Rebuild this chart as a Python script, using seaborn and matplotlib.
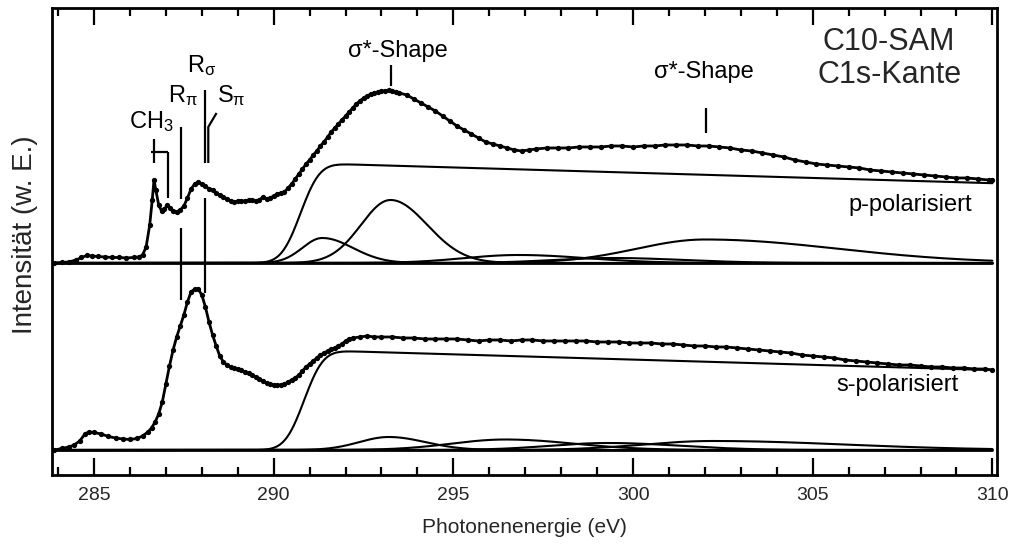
import math

import numpy as np
import pandas as pd
import matplotlib
matplotlib.use("Agg")
import matplotlib.pyplot as plt
import seaborn as sns
from matplotlib.ticker import MultipleLocator

# ---------------------------------------------------------------------------
# Measured C1s NEXAFS spectra of the C10 SAM (edge-jump normalised)
# ---------------------------------------------------------------------------
energy_p = [
    283.90, 284.10, 284.30, 284.50, 284.65, 284.80, 284.95, 285.10, 285.30, 285.50,
    285.70, 285.90, 286.10, 286.25, 286.35, 286.45, 286.55, 286.62, 286.67, 286.72,
    286.80, 286.88, 286.96, 287.04, 287.12, 287.20, 287.30, 287.40, 287.50, 287.60,
    287.70, 287.80, 287.90, 288.00, 288.10, 288.20, 288.30, 288.40, 288.50, 288.60,
    288.70, 288.80, 288.90, 289.00, 289.10, 289.20, 289.30, 289.40, 289.50, 289.60,
    289.70, 289.80, 289.90, 290.00, 290.10, 290.20, 290.30, 290.40, 290.50, 290.60,
    290.70, 290.80, 290.90, 291.00, 291.10, 291.20, 291.30, 291.40, 291.50, 291.60,
    291.70, 291.80, 291.90, 292.00, 292.10, 292.20, 292.30, 292.40, 292.50, 292.60,
    292.70, 292.80, 292.90, 293.00, 293.10, 293.20, 293.30, 293.40, 293.50, 293.70,
    293.90, 294.10, 294.30, 294.50, 294.70, 294.90, 295.10, 295.30, 295.50, 295.70,
    295.90, 296.10, 296.30, 296.50, 296.70, 296.90, 297.10, 297.30, 297.60, 297.90,
    298.20, 298.50, 298.80, 299.10, 299.40, 299.70, 300.00, 300.30, 300.60, 300.90,
    301.20, 301.50, 301.80, 302.10, 302.40, 302.70, 303.00, 303.30, 303.60, 303.90,
    304.20, 304.50, 304.80, 305.10, 305.40, 305.70, 306.00, 306.30, 306.60, 306.90,
    307.20, 307.50, 307.80, 308.10, 308.40, 308.70, 309.00, 309.30, 309.60, 309.90,
    310.00,
]
intensity_p = [
    0.000, 0.005, 0.010, 0.030, 0.055, 0.075, 0.070, 0.065, 0.060, 0.055,
    0.055, 0.050, 0.055, 0.060, 0.080, 0.160, 0.380, 0.630, 0.830, 0.730,
    0.580, 0.520, 0.540, 0.580, 0.550, 0.520, 0.510, 0.530, 0.570, 0.650,
    0.740, 0.790, 0.810, 0.790, 0.770, 0.740, 0.730, 0.700, 0.680, 0.660,
    0.640, 0.620, 0.610, 0.620, 0.620, 0.620, 0.630, 0.630, 0.620, 0.630,
    0.660, 0.640, 0.650, 0.670, 0.690, 0.700, 0.710, 0.750, 0.790, 0.840,
    0.890, 0.940, 0.990, 1.030, 1.080, 1.120, 1.170, 1.210, 1.260, 1.310,
    1.350, 1.390, 1.430, 1.470, 1.510, 1.550, 1.590, 1.620, 1.650, 1.670,
    1.690, 1.700, 1.710, 1.720, 1.720, 1.730, 1.720, 1.710, 1.700, 1.680,
    1.640, 1.600, 1.560, 1.520, 1.470, 1.420, 1.370, 1.330, 1.290, 1.250,
    1.210, 1.190, 1.170, 1.150, 1.130, 1.120, 1.130, 1.140, 1.150, 1.150,
    1.150, 1.160, 1.160, 1.160, 1.170, 1.170, 1.160, 1.170, 1.170, 1.180,
    1.180, 1.180, 1.170, 1.170, 1.160, 1.150, 1.130, 1.120, 1.100, 1.080,
    1.060, 1.030, 1.010, 0.990, 0.980, 0.970, 0.960, 0.950, 0.930, 0.920,
    0.910, 0.900, 0.890, 0.880, 0.870, 0.860, 0.850, 0.850, 0.840, 0.830,
    0.830,
]

energy_s = [
    283.90, 284.10, 284.30, 284.45, 284.60, 284.75, 284.85, 285.00, 285.20, 285.40,
    285.60, 285.80, 286.00, 286.20, 286.35, 286.50, 286.60, 286.70, 286.80, 286.90,
    287.00, 287.10, 287.20, 287.30, 287.40, 287.50, 287.60, 287.70, 287.80, 287.90,
    288.00, 288.10, 288.20, 288.30, 288.40, 288.50, 288.60, 288.70, 288.80, 288.90,
    289.00, 289.10, 289.20, 289.30, 289.40, 289.50, 289.60, 289.70, 289.80, 289.90,
    290.00, 290.10, 290.20, 290.30, 290.40, 290.50, 290.60, 290.70, 290.80, 290.90,
    291.00, 291.10, 291.20, 291.30, 291.40, 291.50, 291.60, 291.70, 291.80, 291.90,
    292.00, 292.10, 292.20, 292.40, 292.60, 292.80, 293.00, 293.30, 293.60, 293.90,
    294.20, 294.50, 294.80, 295.10, 295.40, 295.70, 296.00, 296.30, 296.60, 296.90,
    297.20, 297.50, 297.80, 298.10, 298.40, 298.70, 299.00, 299.30, 299.60, 299.90,
    300.20, 300.50, 300.80, 301.10, 301.40, 301.70, 302.00, 302.30, 302.60, 302.90,
    303.20, 303.50, 303.80, 304.10, 304.40, 304.70, 305.00, 305.30, 305.60, 305.90,
    306.20, 306.50, 306.80, 307.10, 307.40, 307.70, 308.00, 308.30, 308.60, 308.90,
    309.20, 309.50, 309.80, 310.00,
]
intensity_s = [
    0.000, 0.015, 0.030, 0.050, 0.090, 0.160, 0.180, 0.175, 0.160, 0.135,
    0.120, 0.110, 0.105, 0.115, 0.140, 0.180, 0.220, 0.280, 0.360, 0.480,
    0.660, 0.840, 1.000, 1.130, 1.240, 1.350, 1.480, 1.580, 1.610, 1.610,
    1.550, 1.430, 1.280, 1.150, 1.040, 0.940, 0.880, 0.850, 0.830, 0.820,
    0.810, 0.800, 0.780, 0.770, 0.750, 0.730, 0.710, 0.690, 0.670, 0.660,
    0.650, 0.650, 0.650, 0.660, 0.680, 0.700, 0.720, 0.750, 0.790, 0.830,
    0.860, 0.890, 0.920, 0.950, 0.970, 0.990, 1.010, 1.020, 1.040, 1.060,
    1.090, 1.110, 1.120, 1.130, 1.140, 1.130, 1.130, 1.130, 1.120, 1.120,
    1.110, 1.110, 1.110, 1.110, 1.100, 1.090, 1.100, 1.100, 1.090, 1.100,
    1.100, 1.090, 1.090, 1.090, 1.090, 1.090, 1.080, 1.080, 1.080, 1.070,
    1.070, 1.070, 1.060, 1.060, 1.050, 1.040, 1.040, 1.030, 1.030, 1.020,
    1.010, 1.000, 0.990, 0.980, 0.970, 0.950, 0.940, 0.930, 0.920, 0.900,
    0.890, 0.880, 0.870, 0.860, 0.850, 0.850, 0.840, 0.830, 0.830, 0.820,
    0.820, 0.810, 0.810, 0.800,
]

# Vertical offset of the p-polarised spectrum above the s-polarised one
offset_p = 1.87

# ---------------------------------------------------------------------------
# Fit model: ionisation step (erf edge with linear decay) + asymmetric
# Gaussian resonances, parameters per polarisation
# ---------------------------------------------------------------------------
step_center = {"p": 290.75, "s": 290.85}
step_width = 0.42
step_height = 1.0
step_decay = 0.0105

peak_center_p = [291.35, 293.25, 296.80, 299.40, 302.00]
peak_height_p = [0.25, 0.63, 0.08, 0.05, 0.235]
peak_center_s = [291.35, 293.20, 296.45, 299.30, 302.20]
peak_height_s = [0.00, 0.13, 0.105, 0.07, 0.09]
peak_width_low = [0.55, 0.82, 1.50, 1.60, 1.90]
peak_width_high = [0.85, 1.02, 1.90, 2.00, 3.70]

# Resonance markers (energies in eV)
mark_ch3 = [286.67, 287.07]
mark_rpi = 287.42
mark_rsigma = 288.09
mark_spi = 288.18
mark_shape = [293.26, 302.03]

energy_min, energy_max = 283.9, 310.0

# ---------------------------------------------------------------------------
sns.set_theme(style="ticks")
plt.rcParams["font.family"] = ["Liberation Sans", "DejaVu Sans"]
plt.rcParams["mathtext.fontset"] = "custom"
plt.rcParams["mathtext.rm"] = "Liberation Sans"
plt.rcParams["mathtext.it"] = "Liberation Sans"
plt.rcParams["mathtext.default"] = "rm"

fig = plt.figure(figsize=(10.18, 5.56), dpi=100)
ax = fig.add_axes([0.0514, 0.1457, 0.9277, 0.8394])

grid = np.linspace(energy_min, energy_max, 800)
erf = np.vectorize(math.erf)


def step_curve(center):
    rise = 0.5 * (1.0 + erf((grid - center) / (step_width * math.sqrt(2.0))))
    return step_height * rise * (1.0 - step_decay * (grid - center))


def peak_curve(center, height, w_lo, w_hi):
    width = np.where(grid < center, w_lo, w_hi)
    return height * np.exp(-0.5 * ((grid - center) / width) ** 2)


fit_lw = 1.5
for pol, base, centers, heights in (
    ("p", offset_p, peak_center_p, peak_height_p),
    ("s", 0.0, peak_center_s, peak_height_s),
):
    # baseline
    sns.lineplot(x=[energy_min, energy_max], y=[base, base], ax=ax,
                 color="black", lw=2.0, estimator=None)
    # step
    sns.lineplot(x=grid, y=base + step_curve(step_center[pol]), ax=ax,
                 color="black", lw=fit_lw, estimator=None)
    # resonances
    for c, h, wl, wh in zip(centers, heights, peak_width_low, peak_width_high):
        if h <= 0:
            continue
        sns.lineplot(x=grid, y=base + peak_curve(c, h, wl, wh), ax=ax,
                     color="black", lw=fit_lw, estimator=None)

# measured spectra
spec = pd.concat([
    pd.DataFrame({"E": energy_p, "I": np.array(intensity_p) + offset_p, "pol": "p"}),
    pd.DataFrame({"E": energy_s, "I": intensity_s, "pol": "s"}),
])
for pol, sub in spec.groupby("pol"):
    sns.lineplot(data=sub, x="E", y="I", ax=ax, color="black", lw=2.0,
                 marker="o", markersize=3.8, markeredgewidth=0,
                 estimator=None, sort=True)

# ---------------------------------------------------------------------------
# resonance annotations
line_kw = dict(color="black", lw=1.6, solid_capstyle="butt")
ax.plot([mark_ch3[0], mark_ch3[0]], [2.87, 3.11], **line_kw)
ax.plot([mark_ch3[0] - 0.08, mark_ch3[1]], [2.98, 2.98], **line_kw)
ax.plot([mark_ch3[1], mark_ch3[1]], [2.98, 2.52], **line_kw)
ax.plot([mark_rpi, mark_rpi], [2.51, 3.23], **line_kw)
ax.plot([mark_rpi, mark_rpi], [1.50, 2.22], **line_kw)
ax.plot([mark_rsigma, mark_rsigma], [2.87, 3.60], **line_kw)
ax.plot([mark_rsigma, mark_rsigma], [1.57, 2.52], **line_kw)
ax.plot([mark_spi, mark_spi, mark_spi + 0.23], [2.87, 3.23, 3.37], **line_kw)
ax.plot([mark_shape[0], mark_shape[0]], [3.64, 3.85], **line_kw)
ax.plot([mark_shape[1], mark_shape[1]], [3.17, 3.42], **line_kw)

lab = dict(fontsize=17, color="black")
ax.text(285.98, 3.22, r"CH$_3$", ha="left", va="baseline", **lab)
ax.text(287.05, 3.48, r"R$_\pi$", ha="left", va="baseline", **lab)
ax.text(287.60, 3.78, r"R$_\sigma$", ha="left", va="baseline", **lab)
ax.text(288.42, 3.48, r"S$_\pi$", ha="left", va="baseline", **lab)
ax.text(293.45, 3.93, "σ*-Shape", ha="center", va="baseline", **lab)
ax.text(301.98, 3.72, "σ*-Shape", ha="center", va="baseline", **lab)
ax.text(307.7, 2.39, "p-polarisiert", ha="center", va="baseline", **lab)
ax.text(307.35, 0.59, "s-polarisiert", ha="center", va="baseline", **lab)
ax.text(307.1, 4.00, "C10-SAM", ha="center", va="baseline", fontsize=22)
ax.text(307.15, 3.67, "C1s-Kante", ha="center", va="baseline", fontsize=22)

# ---------------------------------------------------------------------------
ax.set_xlim(283.84, 310.12)
ax.set_ylim(-0.25, 4.417)
ax.xaxis.set_major_locator(MultipleLocator(5))
ax.xaxis.set_minor_locator(MultipleLocator(1))
ax.tick_params(axis="x", which="both", direction="in", top=True, bottom=True,
               labelsize=14, pad=9, width=1.6, color="black")
ax.tick_params(axis="x", which="major", length=12)
ax.tick_params(axis="x", which="minor", length=6)
ax.set_yticks([])
for side in ("left", "right", "top", "bottom"):
    ax.spines[side].set_visible(True)
    ax.spines[side].set_linewidth(2.0)
    ax.spines[side].set_color("black")

ax.set_xlabel("Photonenenergie (eV)", fontsize=15, labelpad=10)
ax.set_ylabel("Intensität (w. E.)", fontsize=20)
ax.yaxis.set_label_coords(-0.015, 0.515)

fig.savefig("out.png", dpi=100)
